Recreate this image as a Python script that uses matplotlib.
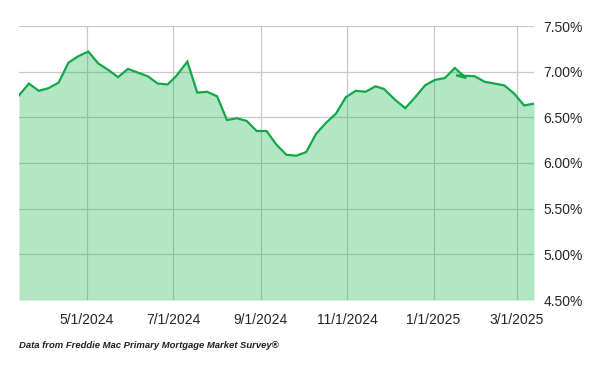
import matplotlib
matplotlib.use('Agg')
import matplotlib.pyplot as plt
import pandas as pd

plt.rcParams['font.family'] = ['Liberation Sans', 'DejaVu Sans']

# Freddie Mac PMMS weekly rates
dates = ['2024-03-14', '2024-03-21', '2024-03-28', '2024-04-04', '2024-04-11',
         '2024-04-18', '2024-04-25', '2024-05-02', '2024-05-09', '2024-05-16',
         '2024-05-23', '2024-05-30', '2024-06-06', '2024-06-13', '2024-06-20',
         '2024-06-27', '2024-07-03', '2024-07-11', '2024-07-18', '2024-07-25',
         '2024-08-01', '2024-08-08', '2024-08-15', '2024-08-22', '2024-08-29',
         '2024-09-05', '2024-09-12', '2024-09-19', '2024-09-26', '2024-10-03',
         '2024-10-10', '2024-10-17', '2024-10-24', '2024-10-31', '2024-11-07',
         '2024-11-14', '2024-11-21', '2024-11-27', '2024-12-05', '2024-12-12',
         '2024-12-19', '2024-12-26', '2025-01-02', '2025-01-09', '2025-01-16',
         '2025-01-24', '2025-01-17', '2025-01-30', '2025-02-06', '2025-02-13',
         '2025-02-20', '2025-02-27', '2025-03-06', '2025-03-13']
rates = [6.74, 6.87, 6.79, 6.82, 6.88,
         7.10, 7.17, 7.22, 7.09, 7.02,
         6.94, 7.03, 6.99, 6.95, 6.87,
         6.86, 6.95, 7.11, 6.77, 6.78,
         6.73, 6.47, 6.49, 6.46, 6.35,
         6.35, 6.20, 6.09, 6.08, 6.12,
         6.32, 6.44, 6.54, 6.72, 6.79,
         6.78, 6.84, 6.81, 6.69, 6.60,
         6.72, 6.85, 6.91, 6.93, 7.04,
         6.93, 6.96, 6.95, 6.89, 6.87,
         6.85, 6.76, 6.63, 6.65]

tick_dates = ['2024-05-01', '2024-07-01', '2024-09-01', '2024-11-01', '2025-01-01', '2025-03-01']
tick_labels = ['5/1/2024', '7/1/2024', '9/1/2024', '11/1/2024', '1/1/2025', '3/1/2025']
y_ticks = [4.5, 5.0, 5.5, 6.0, 6.5, 7.0, 7.5]

x = pd.to_datetime(dates)

fig = plt.figure(figsize=(6, 3.71), dpi=100)
ax = fig.add_axes([19 / 600, 1 - 300 / 371, 515 / 600, 274 / 371])

ax.fill_between(x, rates, 4.5, color=(0.15, 0.72, 0.35), alpha=0.35, lw=0, zorder=2)
ax.plot(x, rates, color='#12a848', lw=1.6, zorder=3, solid_joinstyle='miter')

ax.set_xlim(x.min(), x.max())
ax.set_ylim(4.5, 7.5)
ax.set_xticks(pd.to_datetime(tick_dates))
ax.set_xticklabels(tick_labels)
ax.set_yticks(y_ticks)
ax.set_yticklabels(['%.2f%%' % v for v in y_ticks])
ax.yaxis.tick_right()
ax.tick_params(length=0, labelsize=10, labelcolor='#262626')
ax.tick_params(axis='x', pad=9)
ax.tick_params(axis='y', pad=7)
ax.grid(True, color='#c8c8c8', lw=0.9, zorder=1)
ax.set_axisbelow(True)
for s in ax.spines.values():
    s.set_visible(False)

fig.text(19 / 600, 1 - 345 / 371, 'Data from Freddie Mac Primary Mortgage Market Survey\u00ae',
         fontsize=6.8, fontweight='bold', fontstyle='italic', color='#222222', va='center')

fig.savefig('out.png', dpi=100)
